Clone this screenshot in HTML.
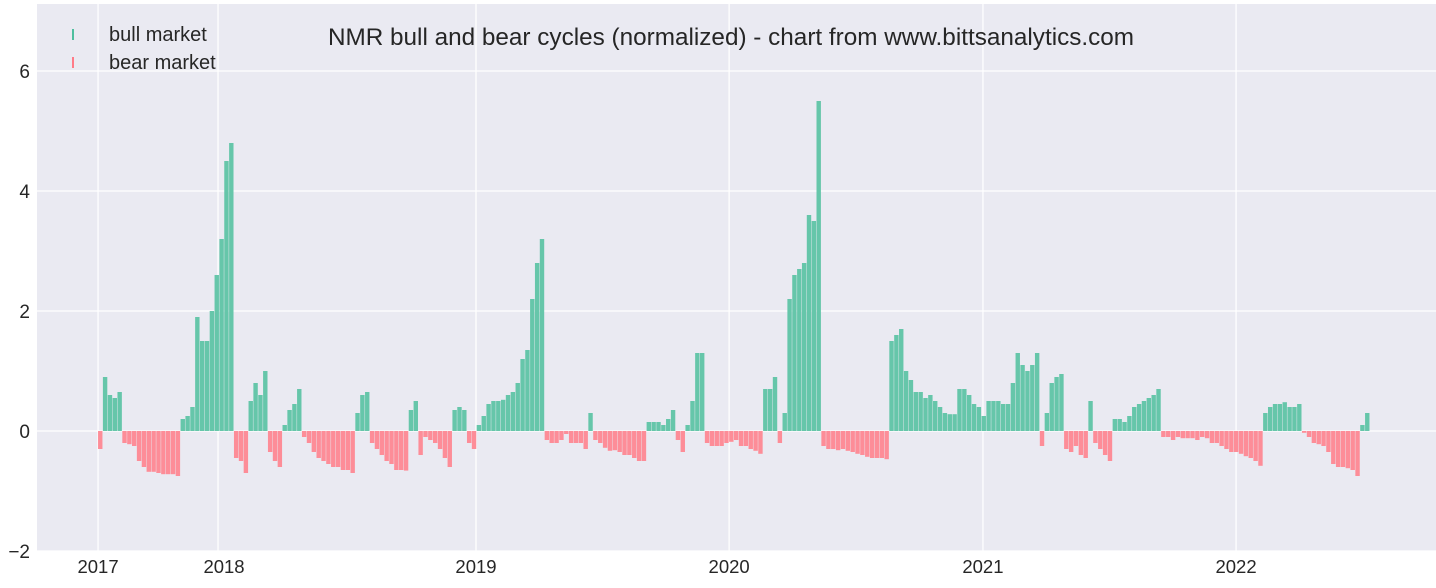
<!DOCTYPE html>
<html><head><meta charset="utf-8"><style>
body{margin:0;background:#fff;font-family:"Liberation Sans",sans-serif}
svg text{font-family:"Liberation Sans",sans-serif}
</style></head><body>
<svg id="chart" width="1436" height="583" viewBox="0 0 1436 583">
<rect x="37" y="4" width="1399" height="547" fill="#eaeaf2"/>
<g id="grid"></g><g id="bars"></g><g id="axes"></g>
<text x="731" y="45" text-anchor="middle" font-size="24.3" fill="#262626">NMR bull and bear cycles (normalized)  - chart from www.bittsanalytics.com</text>
<g>
<rect x="72" y="29" width="2" height="11" fill="#4fbf9f"/>
<text x="109" y="41" font-size="20" fill="#262626">bull market</text>
<rect x="72" y="57" width="2" height="11" fill="#ff7b88"/>
<text x="109" y="69" font-size="20" fill="#262626">bear market</text>
</g>
</svg>
<script>
const startDate = "2017-07-05";
const weeklyValues = [-0.3,0.9,0.6,0.55,0.65,-0.2,-0.22,-0.25,-0.5,-0.6,-0.68,-0.68,-0.7,-0.72,-0.72,-0.72,-0.75,0.2,0.25,0.4,1.9,1.5,1.5,2.0,2.6,3.2,4.5,4.8,
-0.45,-0.5,-0.7,0.5,0.8,0.6,1.0,-0.35,-0.5,-0.6,0.1,0.35,0.45,0.7,-0.1,-0.2,-0.35,-0.45,-0.5,-0.55,-0.6,-0.6,-0.65,-0.65,-0.7,0.3,0.6,0.65,
-0.2,-0.3,-0.4,-0.5,-0.55,-0.65,-0.65,-0.66,0.35,0.5,-0.4,-0.1,-0.15,-0.2,-0.3,-0.45,-0.6,0.35,0.4,0.35,-0.2,-0.3,0.1,
0.25,0.45,0.5,0.5,0.52,0.6,0.65,0.8,1.2,1.35,2.2,2.8,3.2,-0.15,-0.2,-0.2,-0.15,-0.05,-0.2,-0.2,-0.2,-0.3,0.3,-0.15,-0.2,-0.28,-0.33,-0.32,-0.35,-0.4,-0.4,-0.45,-0.5,-0.5,
0.15,0.15,0.15,0.1,0.2,0.35,-0.15,-0.35,0.1,0.5,1.3,1.3,-0.2,-0.25,-0.25,-0.25,-0.2,-0.18,-0.15,-0.25,-0.25,-0.3,-0.33,-0.38,0.7,0.7,0.9,-0.2,0.3,2.2,2.6,2.7,2.8,3.6,3.5,5.5,
-0.25,-0.3,-0.3,-0.32,-0.3,-0.33,-0.35,-0.38,-0.4,-0.43,-0.45,-0.45,-0.45,-0.47,
1.5,1.6,1.7,1.0,0.85,0.65,0.65,0.55,0.6,0.5,0.4,0.3,0.28,0.28,0.7,0.7,0.6,0.45,0.4,0.25,0.5,0.5,0.5,0.45,0.45,0.8,1.3,1.1,1.0,1.1,1.3,
-0.25,0.3,0.8,0.9,0.95,-0.3,-0.35,-0.25,-0.4,-0.45,0.5,-0.2,-0.3,-0.4,-0.5,0.2,0.2,0.15,0.25,0.4,0.45,0.5,0.55,0.6,0.7,
-0.1,-0.1,-0.15,-0.1,-0.12,-0.12,-0.12,-0.15,-0.1,-0.12,-0.2,-0.2,-0.25,-0.3,-0.35,-0.35,-0.38,-0.42,-0.45,-0.5,-0.58,
0.3,0.4,0.45,0.45,0.48,0.4,0.4,0.45,-0.03,-0.1,-0.2,-0.22,-0.25,-0.35,-0.55,-0.6,-0.6,-0.62,-0.65,-0.75,0.1,0.3];
const yTicks = [-2,0,2,4,6];
const xTickLabels = ["2017","2018","2019","2020","2021","2022"];
const xTickDates = ["2017-07-05","2017-12-25","2019-01-01","2020-01-01","2021-01-01","2022-01-01"];

const NS="http://www.w3.org/2000/svg";
const ref=Date.parse("2019-01-01");
function xScale(d){return 476+(Date.parse(d)-ref)/86400000*0.6935;}
function yScale(v){return 431-60*v;}
function mk(tag,attrs,parent){const e=document.createElementNS(NS,tag);for(const k in attrs)e.setAttribute(k,attrs[k]);parent.appendChild(e);return e;}
const grid=document.getElementById('grid'),axes=document.getElementById('axes'),bars=document.getElementById('bars');
yTicks.forEach(t=>{
  const l=mk('line',{x1:37,x2:1436,y1:yScale(t),y2:yScale(t),stroke:'#fff','stroke-width':1.3},grid);
  
  
  const tx=mk('text',{x:30,y:yScale(t)+7,'text-anchor':'end','font-size':19,fill:'#262626'},axes);
  tx.textContent=t===-2?'\u22122':String(t);
  
  
});
xTickDates.forEach((d,i)=>{
  const x=xScale(d);
  const l=mk('line',{x1:x,x2:x,y1:4,y2:551,stroke:'#fff','stroke-width':1.3},grid);
  
  
  const tx=mk('text',{x:x+(i===1?6:0),y:573,'text-anchor':'middle','font-size':18.5,fill:'#262626'},axes);
  tx.textContent=xTickLabels[i];
  
  
});
const s0=Date.parse(startDate);
weeklyValues.forEach((v,i)=>{
  const d=new Date(s0+i*7*86400000).toISOString().slice(0,10);
  const x=xScale(d);
  const y0=yScale(0),y1=yScale(v);
  const r=mk('rect',{x:x,y:Math.min(y0,y1),width:4.4,height:Math.max(0.5,Math.abs(y1-y0)),fill:v>=0?'#66c6aa':'#fd8d98'},bars);
  
  
});
</script>
</body></html>
